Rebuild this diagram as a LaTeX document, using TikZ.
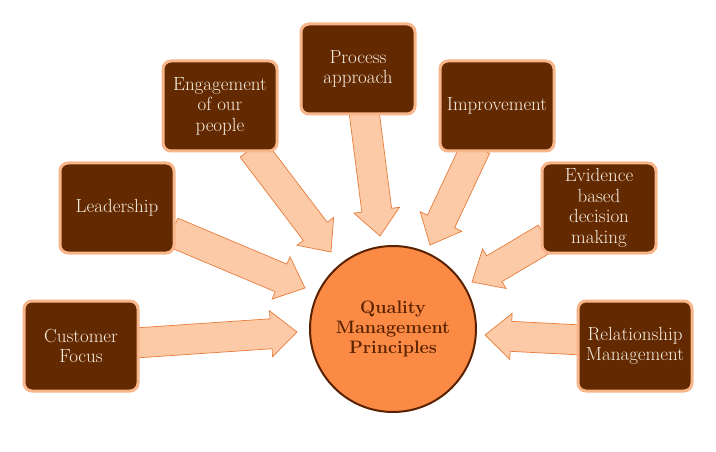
\documentclass[tikz,border=0pt]{standalone}
\usepackage{fontspec}
\usetikzlibrary{calc}
\definecolor{boxfill}{HTML}{632900}
\definecolor{boxline}{HTML}{F8B58A}
\definecolor{circfill}{HTML}{FB8A45}
\definecolor{circline}{HTML}{5A2200}
\definecolor{arrfill}{HTML}{FDCAA8}
\definecolor{arrline}{HTML}{E77C3A}
\definecolor{boxtext}{HTML}{F7EEE2}
\definecolor{circtext}{HTML}{5C2300}
\newcommand{\blockarr}[2]{%
  \coordinate (tmpC) at ($(#2)!26pt!(#1)$);
  \draw[arrstyle] ($(#1)!15pt!90:(#2)$) -- ($(tmpC)!15pt!90:(#2)$) -- ($(tmpC)!23pt!90:(#2)$) -- (#2)
    -- ($(tmpC)!23pt!-90:(#2)$) -- ($(tmpC)!15pt!-90:(#2)$) -- ($(#1)!15pt!-90:(#2)$) -- cycle;}
\begin{document}
\begin{tikzpicture}[x=1pt,y=-1pt,
  box/.style={draw=boxline, line width=3pt, fill=boxfill, rounded corners=8pt,
    minimum width=114pt, minimum height=90pt, align=center, text=boxtext,
    font=\fontsize{19}{20.5}\selectfont, inner sep=0pt},
  hub/.style={circle, draw=circline, line width=2pt, fill=circfill, minimum size=166pt,
    inner sep=0pt, align=center, text=circtext, font=\bfseries\fontsize{18}{20}\selectfont},
  arrstyle/.style={draw=arrline, line width=0.7pt, fill=arrfill, line join=miter}]
\useasboundingbox (0,0) rectangle (716,452);
\fill[white] (0,0) rectangle (716,452);
% arrow end points
\coordinate (s1) at (135,343); \coordinate (t1) at (297,332);
\coordinate (s2) at (172,232); \coordinate (t2) at (305,288);
\coordinate (s3) at (252,148); \coordinate (t3) at (331,252);
\coordinate (s4) at (364,111); \coordinate (t4) at (380,236);
\coordinate (s5) at (476,147); \coordinate (t5) at (430,245);
\coordinate (s6) at (546,238); \coordinate (t6) at (472,282);
\coordinate (s7) at (582,340); \coordinate (t7) at (485,335);
\blockarr{s1}{t1}
\blockarr{s2}{t2}
\blockarr{s3}{t3}
\blockarr{s4}{t4}
\blockarr{s5}{t5}
\blockarr{s6}{t6}
\blockarr{s7}{t7}
% boxes
\node[box] (cf) at (81,346) {Customer\\Focus};
\node[box] (ld) at (117,208) {Leadership};
\node[box] (en) at (220,106) {Engagement\\of our\\people};
\node[box] (pa) at (358,69) {Process\\approach};
\node[box] (im) at (497,106) {Improvement};
\node[box] (ev) at (599,208) {Evidence\\based\\decision\\making};
\node[box] (rm) at (635,346) {Relationship\\Management};
\node[hub] (q) at (393,329) {Quality\\Management\\Principles};
\end{tikzpicture}
\end{document}
